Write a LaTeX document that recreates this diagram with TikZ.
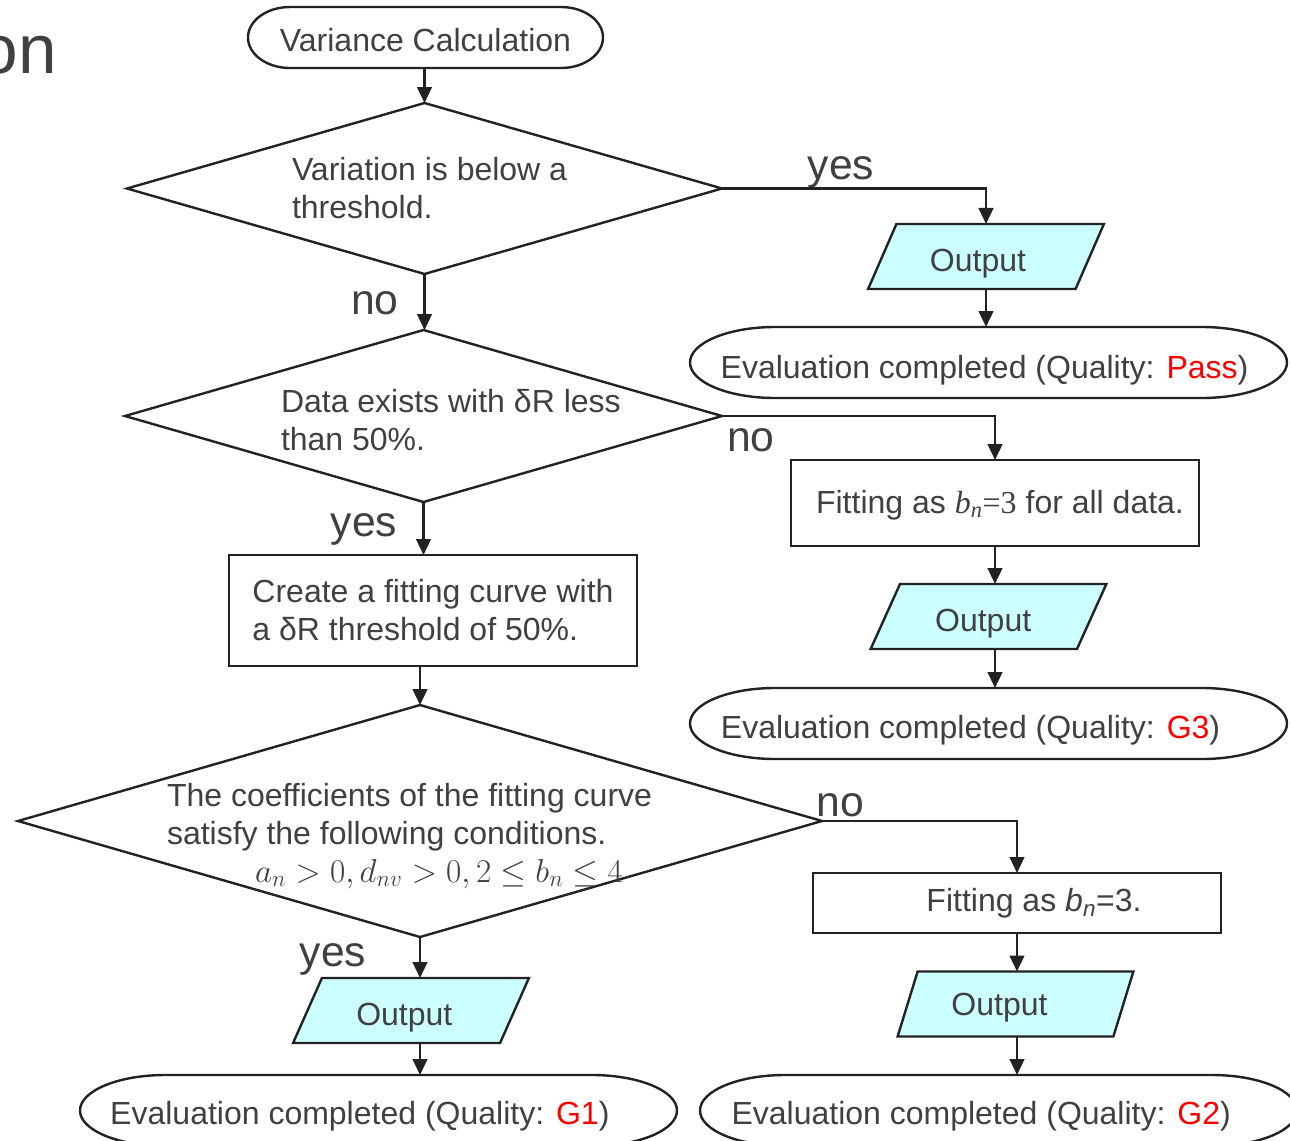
\documentclass[tikz,border=0pt]{standalone}
\usepackage[no-math]{fontspec}
\setmainfont{Liberation Sans}
\newfontfamily\tnr{Liberation Serif}
\usetikzlibrary{shapes.geometric,arrows.meta,calc}
\definecolor{txtc}{HTML}{404040}
\definecolor{linec}{HTML}{222222}
\definecolor{outfill}{HTML}{CCFFFF}
\definecolor{redc}{HTML}{FF0000}
\newcommand\termoutline[3]{%
  \draw[ln] ([xshift=#2]#1.north west) -- ([xshift=-#2]#1.north east)
    arc[start angle=90,end angle=-90,x radius=#2,y radius=#3]
    -- ([xshift=#2]#1.south west)
    arc[start angle=-90,end angle=-270,x radius=#2,y radius=#3] -- cycle;}
\begin{document}
\begin{tikzpicture}[x=0.75pt,y=-0.75pt,
  every node/.style={outer sep=0pt, inner sep=0pt, text=txtc, font=\fontsize{24}{28.5}\selectfont},
  ln/.style={draw=linec, line width=1.8pt},
  arr/.style={ln, -{Triangle[width=11pt,length=12pt]}},
  term/.style={rectangle, draw=none, text height=17pt, text depth=0pt},
  dia/.style={diamond, ln, fill=white},
  boxn/.style={rectangle, ln, fill=white, minimum width=306pt},
  outp/.style={trapezium, trapezium left angle=60, trapezium right angle=120, trapezium stretches,
    minimum width=177pt, minimum height=48.75pt, fill=outfill, ln, text height=23pt, text depth=0pt},
  lbl/.style={font=\fontsize{32}{36}\selectfont}
]
\useasboundingbox (0,0) rectangle (1290,1140);

\node[anchor=base east, font=\fontsize{52}{60}\selectfont] (ttl) at (57,73) {on};

% terminators
\node[term, minimum width=266.25pt, minimum height=45.75pt, text height=20.25pt] (var) at (425.5,37.5) {Variance Calculation};
\termoutline{var}{31.5pt}{22.875pt}
\node[term, minimum width=447.75pt, minimum height=53.25pt, text height=24pt] (e1) at (988.5,362.5) {Evaluation completed (Quality: \textcolor{redc}{Pass})\hspace*{6pt}};
\termoutline{e1}{63.75pt}{26.625pt}
\node[term, minimum width=447.75pt, minimum height=53.25pt, text height=23pt] (e2) at (988.5,723.5) {Evaluation completed (Quality: \textcolor{redc}{G3})\hspace*{27pt}};
\termoutline{e2}{63.75pt}{26.625pt}
\node[term, minimum width=447.75pt, minimum height=53.25pt, text height=20.5pt] (e3) at (998.5,1110.5) {Evaluation completed (Quality: \textcolor{redc}{G2})\hspace*{26pt}};
\termoutline{e3}{63.75pt}{26.625pt}
\node[term, minimum width=447.75pt, minimum height=53.25pt, text height=20.5pt] (e4) at (378.5,1110.5) {Evaluation completed (Quality: \textcolor{redc}{G1})\hspace*{28pt}};
\termoutline{e4}{63.75pt}{26.625pt}

% decisions
\node[dia, minimum width=446.25pt, minimum height=128.25pt] (d1) at (424.5,188.5) {};
\node[anchor=west, align=left] (d1t) at (292,188) {Variation is below a\\threshold.};
\node[dia, minimum width=447.75pt, minimum height=129pt] (d2) at (423.5,416) {};
\node[anchor=west, align=left] (d2t) at (281,420.5) {Data exists with δR less\\than 50\%.};
\node[dia, minimum width=603pt, minimum height=174pt] (d3) at (420,821) {};
\node[anchor=west, align=left] (d3t) at (167,817) {The coefficients of the fitting curve\\satisfy the following conditions.};
\node[anchor=base, font=\fontsize{24.7}{29}\selectfont] (d3f) at (439,882) {$a_n>0, d_{nv}>0, 2\le b_n\le 4$};

% processes
\node[boxn, minimum height=64.5pt, text height=15pt, text depth=0pt] (b1) at (995,503) {\hspace*{7.5pt}Fitting as {\tnr\textit{b}\textsubscript{\textit{n}}=3} for all data.};
\node[boxn, minimum height=83.25pt, align=left] (cb) at (433,610.5) {Create a fitting curve with\\a δR threshold of 50\%.};
\node[boxn, minimum height=45pt, text height=13pt, text depth=0pt] (b3) at (1017,903) {\hspace*{25.5pt}Fitting as \textit{b}\textsubscript{\textit{n}}=3.};

% outputs
\node[outp] (o1) at (986,256.5) {Output\hspace*{12pt}};
\node[outp] (o2) at (988.5,616.5) {Output\hspace*{8pt}};
\node[outp, text height=17pt] (o3) at (1015.5,1004) {Output\hspace*{24pt}};
\node[outp] (o4) at (411,1010.5) {Output\hspace*{10pt}};

% labels
\node[lbl] (l1) at (841,172) {yes};
\node[lbl] (l2) at (375,303) {no};
\node[lbl] (l3) at (751,440) {no};
\node[lbl] (l4) at (364,529) {yes};
\node[lbl] (l5) at (840,805) {no};
\node[lbl] (l6) at (333,959) {yes};

% connectors
\draw[arr] (d1.north |- var.south) -- (d1.north);
\draw[arr] (d1.east) -| (o1.north);
\draw[arr] (o1.south) -- (o1.south |- e1.north);
\draw[arr] (d1.south) -- (d1.south |- d2.north);
\draw[arr] (d2.east) -| (b1.north);
\draw[arr] (b1.south) -- (b1.south |- o2.north);
\draw[arr] (b1.south |- o2.south) -- (b1.south |- e2.north);
\draw[arr] (d2.south) -- (d2.south |- cb.north);
\draw[arr] (d3.north |- cb.south) -- (d3.north);
\draw[arr] (d3.east) -| (b3.north);
\draw[arr] (b3.south) -- (b3.south |- o3.north);
\draw[arr] (b3.south |- o3.south) -- (b3.south |- e3.north);
\draw[arr] (d3.south) -- (d3.south |- o4.north);
\draw[arr] (d3.south |- o4.south) -- (d3.south |- e4.north);
\end{tikzpicture}
\end{document}
